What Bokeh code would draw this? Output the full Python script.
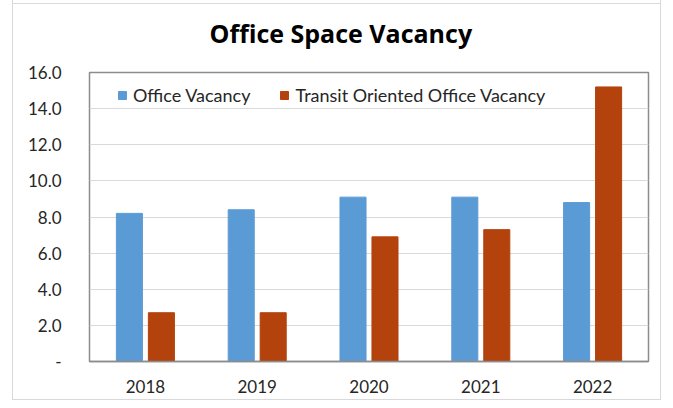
from bokeh.plotting import figure
from bokeh.layouts import column
from bokeh.models import (ColumnDataSource, FactorRange, Legend, LegendItem, NumeralTickFormatter,
                          FixedTicker)
from bokeh.transform import dodge
from bokeh.embed import file_html
from bokeh.resources import INLINE

years = ["2018", "2019", "2020", "2021", "2022"]
office_vacancy = [8.2, 8.4, 9.1, 9.1, 8.8]
transit_vacancy = [2.7, 2.7, 6.9, 7.3, 15.2]
y_ticks = [0, 2, 4, 6, 8, 10, 12, 14, 16]
title_text = "Office Space Vacancy"

src = ColumnDataSource(dict(year=years, office=office_vacancy, transit=transit_vacancy))

FONT = "Lato"
BORDER = "1px solid #d9d9d9"
p = figure(width=649, height=410, x_range=FactorRange(*years), y_range=(0, 16),
           output_backend="svg", toolbar_location=None,
           min_border_left=76, min_border_right=14, min_border_top=70, min_border_bottom=39)
p.styles = {"margin-top": "-14px", "border-left": BORDER, "border-right": BORDER,
            "border-bottom": BORDER}
p.border_fill_alpha = 0

p.title.text = title_text
p.title.align = "left"
p.title.offset = 120
p.title.standoff = 46
p.title.vertical_align = "bottom"
p.title.text_font = "Open Sans"
p.title.text_font_size = "25px"
p.title.text_font_style = "bold"
p.title.text_color = "#000000"

r1 = p.vbar(x=dodge("year", -0.143, range=p.x_range), top="office", width=0.233, source=src,
            fill_color="#5B9BD5", line_color="#5B9BD5")
r2 = p.vbar(x=dodge("year", 0.143, range=p.x_range), top="transit", width=0.233, source=src,
            fill_color="#B4420C", line_color="#B4420C")

p.outline_line_color = "#8c8c8c"
p.outline_line_width = 1.5
p.xgrid.grid_line_color = None
p.ygrid.grid_line_color = "#d9d9d9"
p.ygrid.ticker = FixedTicker(ticks=y_ticks)

p.yaxis.ticker = FixedTicker(ticks=y_ticks)
p.yaxis.formatter = NumeralTickFormatter(format="0.0")
p.yaxis.major_label_overrides = {0: "-"}
p.yaxis.axis_line_color = None
p.yaxis.major_tick_line_color = None
p.yaxis.minor_tick_line_color = None
p.yaxis.major_label_standoff = 22
p.yaxis.major_label_text_font = FONT
p.yaxis.major_label_text_font_size = "17px"
p.yaxis.major_label_text_color = "#262626"

p.xaxis.axis_line_color = "#8c8c8c"
p.xaxis.axis_line_width = 1.5
p.xaxis.major_tick_line_color = None
p.xaxis.minor_tick_line_color = None
p.xaxis.major_label_standoff = 12
p.xaxis.major_label_text_font = FONT
p.xaxis.major_label_text_font_size = "17px"
p.xaxis.major_label_text_color = "#262626"
p.x_range.range_padding = 0
p.x_range.group_padding = 0

legend = Legend(items=[LegendItem(label="Office Vacancy", renderers=[r1]),
                       LegendItem(label="Transit Oriented Office Vacancy", renderers=[r2])],
                orientation="horizontal", location=(28, 255),
                padding=0, margin=0, spacing=29, label_standoff=6,
                glyph_width=10, glyph_height=10,
                label_text_font=FONT, label_text_font_size="18px", label_text_color="#262626",
                border_line_color=None, background_fill_alpha=0)
p.add_layout(legend, "center")

layout = column(p, styles={"margin-left": "12px", "margin-top": "3px", "border-top": BORDER})

open("out.html", "w").write(file_html(layout, INLINE))
